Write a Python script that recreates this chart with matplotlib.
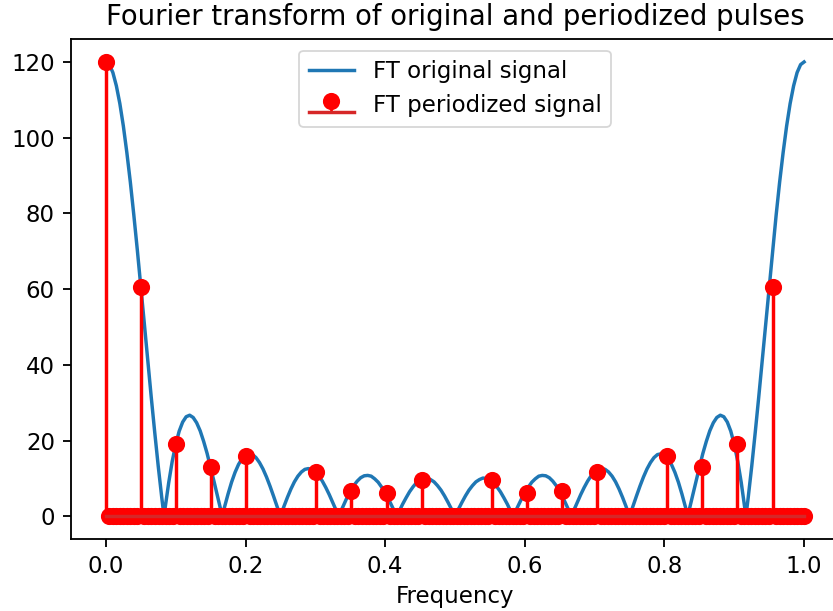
import numpy as np
import matplotlib
matplotlib.use("Agg")
import matplotlib.pyplot as plt

# ---- data ----
curve_step = 0.005
curve_mag = [
    120.0,
    119.3, 117.2, 113.7, 109.0, 103.1, 96.1, 88.3, 79.6, 70.4, 60.8,
    51.0, 41.1, 31.4, 22.1, 13.2, 5.0, 2.4, 8.9, 14.5, 19.0,
    22.5, 24.9, 26.3, 26.7, 26.1, 24.7, 22.6, 19.8, 16.6, 12.9,
    9.1, 5.2, 1.3, 2.5, 5.9, 9.0, 11.6, 13.7, 15.2, 16.2,
    16.5, 16.3, 15.5, 14.2, 12.5, 10.4, 8.0, 5.4, 2.7, 0.0,
    2.6, 5.0, 7.2, 9.1, 10.6, 11.7, 12.4, 12.6, 12.4, 11.8,
    10.7, 9.3, 7.6, 5.7, 3.6, 1.5, 0.7, 2.8, 4.8, 6.6,
    8.1, 9.3, 10.2, 10.7, 10.8, 10.6, 9.9, 9.0, 7.7, 6.2,
    4.5, 2.6, 0.7, 1.3, 3.2, 4.9, 6.5, 7.8, 8.9, 9.6,
    10.0, 10.1, 9.7, 9.1, 8.1, 6.9, 5.4, 3.7, 1.9, 0.0,
    1.9, 3.7, 5.4, 6.9, 8.1, 9.1, 9.7, 10.1, 10.0, 9.6,
    8.9, 7.8, 6.5, 4.9, 3.2, 1.3, 0.7, 2.6, 4.5, 6.2,
    7.7, 9.0, 9.9, 10.6, 10.8, 10.7, 10.2, 9.3, 8.1, 6.6,
    4.8, 2.8, 0.7, 1.5, 3.6, 5.7, 7.6, 9.3, 10.7, 11.8,
    12.4, 12.6, 12.4, 11.7, 10.6, 9.1, 7.2, 5.0, 2.6, 0.0,
    2.7, 5.4, 8.0, 10.4, 12.5, 14.2, 15.5, 16.3, 16.5, 16.2,
    15.2, 13.7, 11.6, 9.0, 5.9, 2.5, 1.3, 5.2, 9.1, 12.9,
    16.6, 19.8, 22.6, 24.7, 26.1, 26.7, 26.3, 24.9, 22.5, 19.0,
    14.5, 8.9, 2.4, 5.0, 13.2, 22.1, 31.4, 41.1, 51.0, 60.8,
    70.4, 79.6, 88.3, 96.1, 103.1, 109.0, 113.7, 117.2, 119.3, 120.0,
]
# frequencies where the curve touches zero (notches)
notch_freqs = [0.0833, 0.1667, 0.3333, 0.4167, 0.5833, 0.6667, 0.8333, 0.9167]

# periodized signal: 200 samples spread over [0, 1]; a nonzero line every 10th sample
n_samples = 200
stem_every = 10
stem_mags = [120.0, 60.6, 19.0, 12.9, 16.0, 0.0, 11.8, 6.6, 6.2, 9.6,
             0.0, 9.6, 6.2, 6.6, 11.8, 0.0, 16.0, 12.9, 19.0, 60.6]

# ---- build arrays ----
cf = list(np.arange(len(curve_mag)) * curve_step)
pts = sorted(list(zip(cf, curve_mag)) + [(f, 0.0) for f in notch_freqs])
curve_f = np.array([p[0] for p in pts])
curve_m = np.array([p[1] for p in pts])

sf = np.linspace(0, 1, n_samples)
sm = np.zeros(n_samples)
for i, m in enumerate(stem_mags):
    sm[i * stem_every] = m

S = 1.27
plt.rcParams.update({
    "font.size": 10 * S,
    "axes.linewidth": 0.8 * S,
    "xtick.major.size": 3.5 * S,
    "ytick.major.size": 3.5 * S,
    "xtick.major.width": 0.8 * S,
    "ytick.major.width": 0.8 * S,
    "xtick.major.pad": 3.5 * S,
    "ytick.major.pad": 3.5 * S,
})

fig = plt.figure(figsize=(833 / 130, 611 / 130), dpi=130)
ax = fig.add_axes([0.0852, 0.1178, 0.922, 0.818])

ax.plot(curve_f, curve_m, color="#1f77b4", lw=1.5 * S, label="FT original signal")
markerline, stemlines, baseline = ax.stem(sf, sm, linefmt="r-", markerfmt="ro",
                                          basefmt="C3-", label="FT periodized signal")
markerline.set_markersize(8.5)
stemlines.set_linewidth(1.5 * S)
baseline.set_linewidth(1.5 * S)
baseline.set_zorder(markerline.get_zorder() + 0.1)

ax.set_xlim(-0.05, 1.05)
ax.set_ylim(-6, 126)
ax.set_xticks([0.0, 0.2, 0.4, 0.6, 0.8, 1.0])
ax.set_yticks([0, 20, 40, 60, 80, 100, 120])
ax.set_title("Fourier transform of original and periodized pulses", fontsize=12 * S,
             pad=6 * S)
ax.set_xlabel("Frequency")
ax.legend(loc="upper center")

fig.savefig("out.png", dpi=130)
